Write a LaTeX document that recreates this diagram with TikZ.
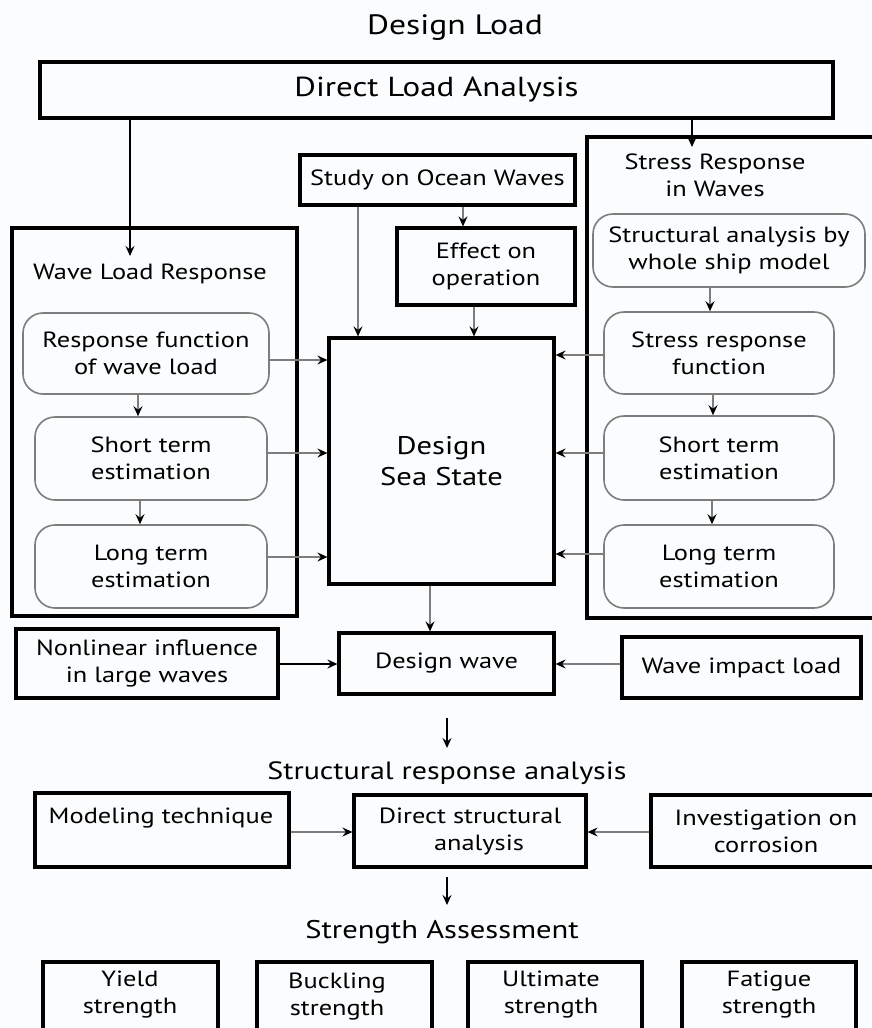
\documentclass[tikz,border=0pt]{standalone}
\usepackage{fontspec}
\setmainfont{PT Sans}[FakeStretch=1.2]
\usetikzlibrary{arrows.meta}
\definecolor{bgcol}{RGB}{250,252,253}
\definecolor{lgray}{RGB}{125,125,125}
\tikzset{every picture/.style={line width=0.75pt}}

\begin{document}
\begin{tikzpicture}[x=1pt,y=1pt,yscale=-1,
	box/.style={draw, line width=3.2pt, align=center, inner sep=0pt},
	rbox/.style={draw=lgray, line width=1.6pt, rounded corners=20pt, align=center, inner sep=0pt},
	txt/.style={align=center, inner sep=0pt},
	arr/.style={-{Stealth[length=10pt,width=9pt,inset=3.5pt]}, line width=1.5pt},
	garr/.style={draw=lgray, -{Stealth[length=10pt,width=9pt,inset=3.5pt,color=black]}, line width=1.5pt},
	font=\fontsize{22}{27}\selectfont]
		\useasboundingbox (0,0) rectangle (871,1028);
		\fill[bgcol] (0,0) rectangle (871,1028);
		
		%Shape: Rectangle [Direct Load Analysis]
		\node[box, minimum width=793, minimum height=56, font=\fontsize{27.5}{30}\selectfont] (dla) at (436.5,90) {Direct Load Analysis};
		%Shape: Rectangle [Wave Load Response]
		\node[box, minimum width=285, minimum height=388] (wlr) at (154.5,422) {};
		%Shape: Rectangle [Stress Response in Waves]
		\node[box, minimum width=298, minimum height=481] (srw) at (736,377.5) {};
		%Shape: Rectangle [Study on Ocean Waves]
		\node[box, minimum width=275, minimum height=50] (study) at (437.5,180) {Study on Ocean Waves};
		%Shape: Rectangle [Effect on operation]
		\node[box, minimum width=178, minimum height=77] (effect) at (486,266.5) {Effect on\\operation};
		%Shape: Rectangle [Design Sea State]
		\node[box, minimum width=225, minimum height=246, font=\fontsize{25.5}{31}\selectfont] (dss) at (441.5,461) {Design\\Sea State};
		
		%Shape: Rounded Rect [left column]
		\node[rbox, minimum width=246, minimum height=81] (rf) at (146,353.5) {Response function\\of wave load};
		\node[rbox, minimum width=232, minimum height=83] (wst) at (151,458.5) {Short term\\estimation};
		\node[rbox, minimum width=232, minimum height=83] (wlt) at (151,566.5) {Long term\\estimation};
		%Shape: Rounded Rect [right column]
		\node[rbox, minimum width=272, minimum height=73] (sam) at (729,250.5) {Structural analysis by\\whole ship model};
		\node[rbox, minimum width=230, minimum height=82] (srf) at (719,353) {Stress response\\function};
		\node[rbox, minimum width=230, minimum height=84] (sst) at (719,458) {Short term\\estimation};
		\node[rbox, minimum width=230, minimum height=83] (slt) at (719,566.5) {Long term\\estimation};
		
		%Shape: Rectangle [design wave row]
		\node[box, minimum width=262, minimum height=69] (nl) at (147,663.5) {Nonlinear influence\\in large waves};
		\node[box, minimum width=215, minimum height=61] (dw) at (446.5,663.5) {Design wave};
		\node[box, minimum width=239, minimum height=61] (wil) at (741.5,667.5) {Wave impact load};
		
		%Shape: Rectangle [structural row]
		\node[box, minimum width=254, minimum height=74] (mt) at (162,830) {};
		\node[box, minimum width=232, minimum height=72] (dsa) at (470,831) {Direct structural\\\hspace*{18pt}analysis};
		\node[box, minimum width=234, minimum height=72] (ic) at (768,831) {};
		
		%Shape: Rectangle [strength row]
		\node[box, minimum width=175, minimum height=83] (yield) at (130.5,1003.5) {};
		\node[box, minimum width=175, minimum height=83] (buck) at (344.5,1003.5) {};
		\node[box, minimum width=174, minimum height=83] (ult) at (555,1003.5) {};
		\node[box, minimum width=174, minimum height=83] (fat) at (769,1003.5) {};
		
		% Text Node
		\node[txt, font=\fontsize{28}{30}\selectfont] (dload) at (455,28) {Design Load};
		% Text Node
		\node[txt] (wlrt) at (150,274) {Wave Load Response};
		% Text Node
		\node[txt] (srwt) at (715,175) {Stress Response\\in Waves};
		% Text Node
		\node[txt, font=\fontsize{25}{27}\selectfont] (sra) at (447,773) {Structural response analysis};
		% Text Node
		\node[txt] (mtt) at (161,818) {Modeling technique};
		% Text Node
		\node[txt] (ict) at (766,831) {Investigation on\\corrosion};
		% Text Node
		\node[txt, font=\fontsize{25.5}{27}\selectfont] (sat) at (442,932) {Strength Assessment};
		% Text Node
		\node[txt] (yieldt) at (130,995) {Yield\\strength};
		\node[txt] (buckt) at (337,997) {Buckling\\strength};
		\node[txt] (ultt) at (551,995) {Ultimate\\strength};
		\node[txt] (fatt) at (769,995) {Fatigue\\strength};
		
		\coordinate (wlrin) at (130,256);
		\coordinate (srwin) at (692,147);
		\coordinate (sra0) at (447,718);
		\coordinate (sra1) at (447,748);
		\coordinate (sat0) at (447,877);
		\coordinate (sat1) at (447,905);
		
		%Straight Lines [from Direct Load Analysis]
		\draw[arr] (dla.south -| wlrin) -- (wlrin);
		\draw[arr] (dla.south -| srwin) -- (srwin);
		%Straight Lines [into Design Sea State]
		\draw[garr] (study.south -| 463,0) -- (effect.north -| 463,0);
		\draw[garr] (study.south -| 358,0) -- (dss.north -| 358,0);
		\draw[garr] (effect.south -| 474,0) -- (dss.north -| 474,0);
		\draw[garr] (rf.east |- 0,360) -- (dss.west |- 0,360);
		\draw[garr] (wst.east |- 0,453) -- (dss.west |- 0,453);
		\draw[garr] (wlt.east |- 0,557) -- (dss.west |- 0,557);
		\draw[garr] (srf.west |- 0,355) -- (dss.east |- 0,355);
		\draw[garr] (sst.west |- 0,453) -- (dss.east |- 0,453);
		\draw[garr] (slt.west |- 0,554) -- (dss.east |- 0,554);
		%Straight Lines [inside the columns]
		\draw[garr] (rf.south -| 138,0) -- (wst.north -| 138,0);
		\draw[garr] (wst.south -| 140,0) -- (wlt.north -| 140,0);
		\draw[garr] (sam.south -| 710,0) -- (srf.north -| 710,0);
		\draw[garr] (srf.south -| 713,0) -- (sst.north -| 713,0);
		\draw[garr] (sst.south -| 712,0) -- (slt.north -| 712,0);
		%Straight Lines [design wave]
		\draw[garr] (dss.south -| 430,0) -- (dw.north -| 430,0);
		\draw[arr] (nl.east |- 0,664) -- (dw.west |- 0,664);
		\draw[garr] (wil.west |- 0,664) -- (dw.east |- 0,664);
		\draw[arr] (sra0) -- (sra1);
		%Straight Lines [structural analysis]
		\draw[garr] (mt.east |- 0,832) -- (dsa.west |- 0,832);
		\draw[garr] (ic.west |- 0,832) -- (dsa.east |- 0,832);
		\draw[arr] (sat0) -- (sat1);
		
\end{tikzpicture}
\end{document}
